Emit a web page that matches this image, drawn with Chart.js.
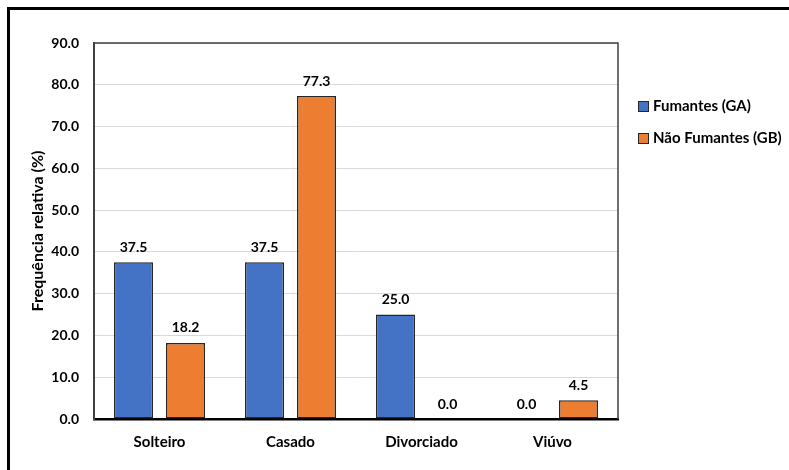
<!DOCTYPE html>
<html>
<head>
<meta charset="utf-8">
<script src="https://cdn.jsdelivr.net/npm/chart.js@4"></script>
<style>
  html, body { margin: 0; padding: 0; background: #fff; }
  #wrap { position: relative; width: 789px; height: 470px; overflow: hidden; }
  #frame { position: absolute; left: 7px; top: 7px; width: 900px; height: 600px;
           border-left: 3px solid #000; border-top: 3px solid #000; box-sizing: border-box; }
  canvas { position: absolute; left: 0; top: 0; }
  .legend { position: absolute; left: 638px; font: bold 15px Lato, sans-serif; color: #000; }
  .legend .item { position: absolute; left: 0; white-space: nowrap; height: 16px; line-height: 16px; }
  .legend .sw { display: inline-block; width: 9px; height: 9px; border: 1px solid #262626;
                vertical-align: middle; margin-right: 4px; position: relative; top: -1px; }
</style>
</head>
<body>
<div id="wrap">
  <div id="frame"></div>
  <canvas id="c" width="789" height="470"></canvas>
  <div class="legend" id="legend"></div>
</div>
<script>
const categories = ['Solteiro', 'Casado', 'Divorciado', 'Viúvo'];
const fumantesGA = [37.5, 37.5, 25.0, 0.0];
const naoFumantesGB = [18.2, 77.3, 0.0, 4.5];
const seriesNames = ['Fumantes (GA)', 'Não Fumantes (GB)'];
const seriesColors = ['#4472C4', '#ED7D31'];
const yTicks = [0, 10, 20, 30, 40, 50, 60, 70, 80, 90];

const FONT = 'Lato, sans-serif';

// value labels above every bar
const valueLabels = {
  id: 'valueLabels',
  afterDatasetsDraw(chart) {
    const ctx = chart.ctx;
    ctx.save();
    ctx.font = 'bold 14px ' + FONT;
    ctx.fillStyle = '#000';
    ctx.textAlign = 'center';
    ctx.textBaseline = 'middle';
    chart.data.datasets.forEach((ds, i) => {
      chart.getDatasetMeta(i).data.forEach((bar, j) => {
        ctx.fillText(ds.data[j].toFixed(1), bar.x, bar.y - 15);
      });
    });
    ctx.restore();
  }
};

// top and right edges of the plot box
const plotBox = {
  id: 'plotBox',
  beforeDatasetsDraw(chart) {
    const a = chart.chartArea, ctx = chart.ctx;
    ctx.save();
    ctx.strokeStyle = '#404040';
    ctx.lineWidth = 1.5;
    ctx.beginPath();
    ctx.moveTo(a.left, a.top);
    ctx.lineTo(a.right, a.top);
    ctx.lineTo(a.right, a.bottom);
    ctx.stroke();
    ctx.restore();
  }
};

new Chart(document.getElementById('c'), {
  type: 'bar',
  data: {
    labels: categories,
    datasets: [
      { label: seriesNames[0], data: fumantesGA, backgroundColor: seriesColors[0],
        borderColor: '#262626', borderWidth: 1.5, borderSkipped: false,
        categoryPercentage: 0.794, barPercentage: 0.75 },
      { label: seriesNames[1], data: naoFumantesGB, backgroundColor: seriesColors[1],
        borderColor: '#262626', borderWidth: 1.5, borderSkipped: false,
        categoryPercentage: 0.794, barPercentage: 0.75 }
    ]
  },
  options: {
    responsive: false,
    animation: false,
    layout: { padding: { left: 26, top: 43, right: 171, bottom: 0 } },
    plugins: { legend: { display: false }, tooltip: { enabled: false } },
    scales: {
      x: {
        grid: { display: false, drawTicks: false },
        border: { color: '#000', width: 2.5 },
        ticks: { color: '#000', font: { family: FONT, size: 15, weight: 'bold' }, padding: 14 },
        afterFit(s) { s.height = 51; }
      },
      y: {
        min: 0, max: 90,
        afterBuildTicks(s) { s.ticks = yTicks.map(v => ({ value: v })); },
        grid: { color: '#d9d9d9', lineWidth: 1, drawTicks: false },
        border: { color: '#404040', width: 2 },
        ticks: { color: '#000', font: { family: FONT, size: 14, weight: 'bold' }, padding: 15,
                 callback: v => Number(v).toFixed(1) },
        title: { display: true, text: 'Frequência relativa (%)', color: '#000',
                 font: { family: FONT, size: 16, weight: 'bold' }, padding: { top: 2, bottom: 0 } },
        afterFit(s) { s.width = 94 - 26; }
      }
    }
  },
  plugins: [plotBox, valueLabels]
});

// legend on the right
const legend = document.getElementById('legend');
const legendTops = [97, 129];
seriesNames.forEach((name, i) => {
  const item = document.createElement('div');
  item.className = 'item';
  item.style.top = legendTops[i] + 'px';
  const sw = document.createElement('span');
  sw.className = 'sw';
  sw.style.background = seriesColors[i];
  item.appendChild(sw);
  item.appendChild(document.createTextNode(name));
  legend.appendChild(item);
});
</script>
</body>
</html>
